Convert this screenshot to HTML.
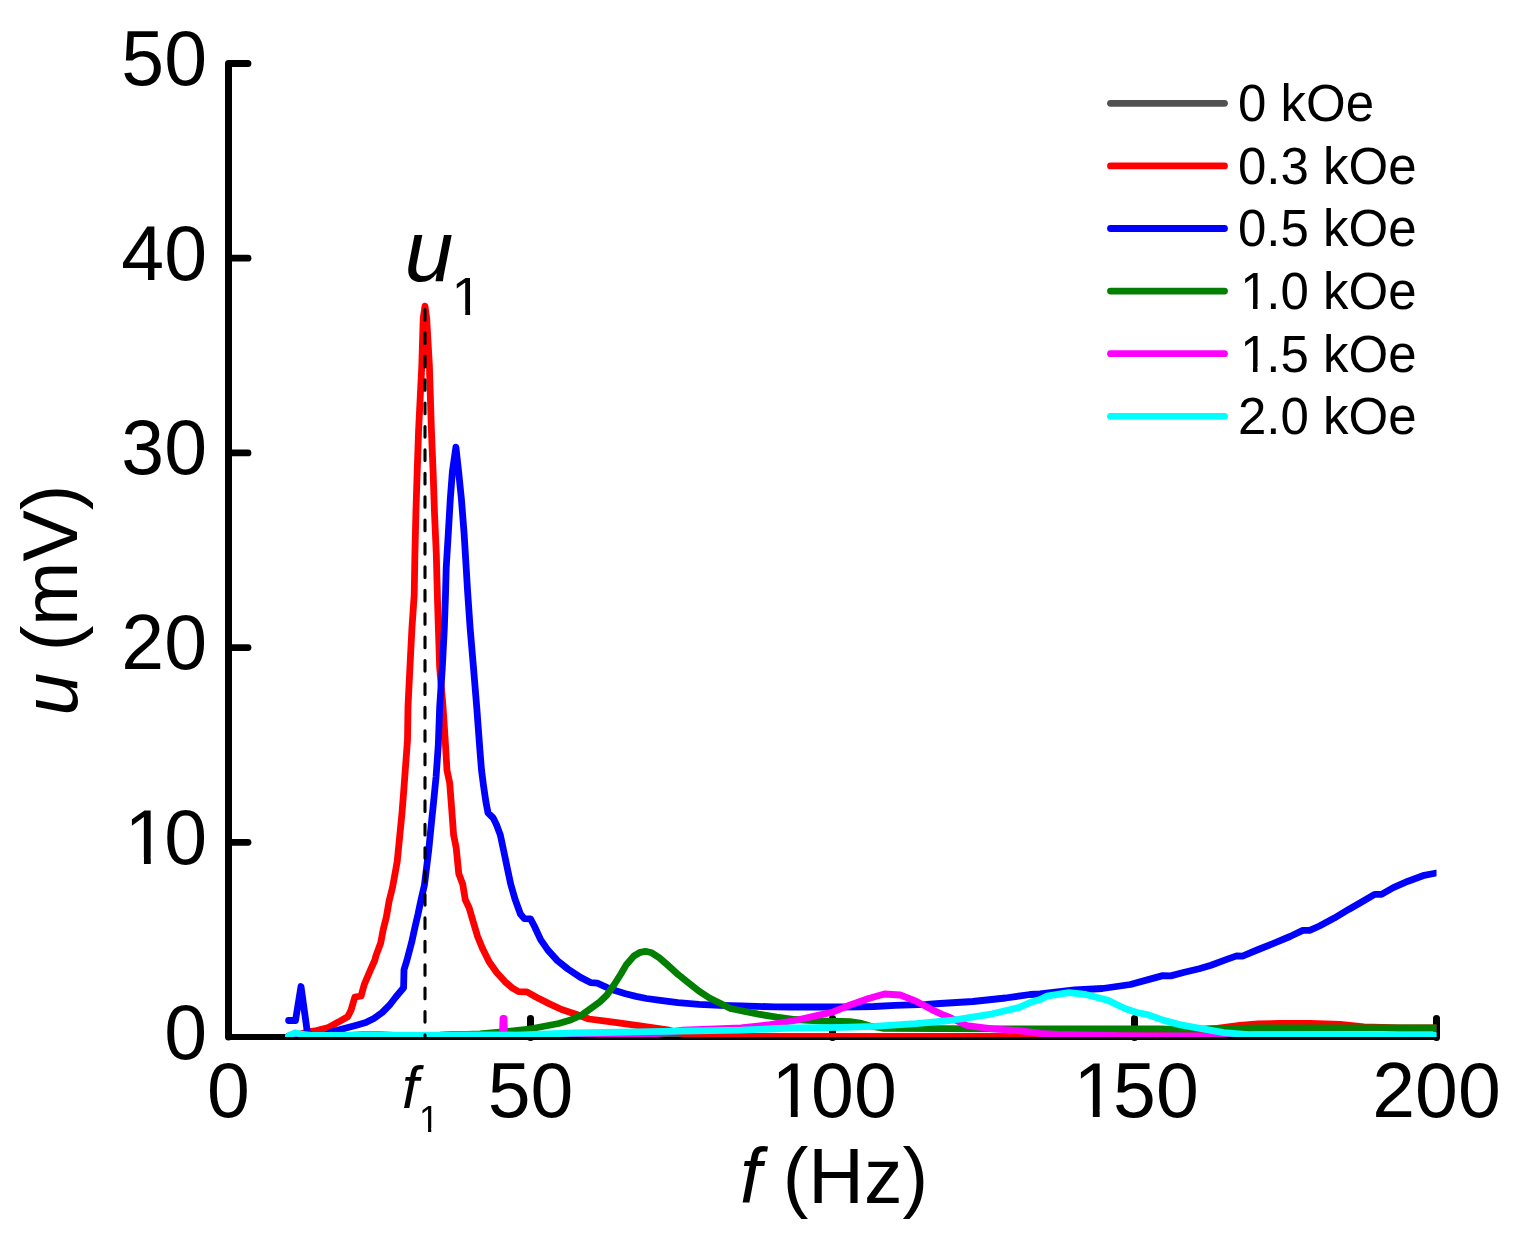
<!DOCTYPE html>
<html><head><meta charset="utf-8"><style>
html,body{margin:0;padding:0;background:#fff;}
svg{display:block;}
text{font-family:"Liberation Sans",Arial,sans-serif;fill:#000;}
</style></head><body>
<svg width="1524" height="1233" viewBox="0 0 1524 1233">
<g fill="none" stroke="#000" stroke-width="6.8" stroke-linecap="round" stroke-linejoin="round">
<path d="M247.9,63.5 H228.5 V1037.0" stroke-width="7"/>
<path d="M228.0,1037.0 H1436.5" stroke-width="5.9" stroke-linecap="butt"/>
<path d="M228.5,842.3 H248.0" />
<path d="M228.5,647.6 H248.0" />
<path d="M228.5,452.9 H248.0" />
<path d="M228.5,258.2 H248.0" />
<path d="M530.5,1037.4 V1018.5" stroke-width="7"/>
<path d="M832.5,1037.4 V1018.5" stroke-width="7"/>
<path d="M1134.5,1037.4 V1018.5" stroke-width="7"/>
<path d="M1436.5,1037.4 V1018.5" stroke-width="7"/>
</g>
<g font-size="77">
<text x="164.18" y="1058.50" font-size="77">0</text>
<text x="124.59 164.18" y="863.80" font-size="77">10</text>
<text x="121.35" y="669.10" font-size="77">20</text>
<text x="121.35" y="474.40" font-size="77">30</text>
<text x="121.35" y="279.70" font-size="77">40</text>
<text x="121.35" y="85.00" font-size="77">50</text>
<text x="207.09" y="1116.80" font-size="77">0</text>
<text x="487.68" y="1116.80" font-size="77">50</text>
<text x="771.50 811.09" y="1116.80" font-size="77">100</text>
<text x="1073.50 1113.09" y="1116.80" font-size="77">150</text>
<text x="1372.26" y="1116.80" font-size="77">200</text>
</g>
<text x="76.8" y="600" font-size="77" transform="rotate(-90 76.8 600)" text-anchor="middle"><tspan font-style="italic">u</tspan> (mV)</text>
<text x="834" y="1202.6" font-size="77" text-anchor="middle"><tspan font-style="italic">f</tspan> (Hz)</text>
<defs><clipPath id="pc"><rect x="228.5" y="63.5" width="1208.0" height="973.5"/></clipPath></defs>
<g fill="none" stroke-width="6.8" stroke-linecap="round" stroke-linejoin="round" clip-path="url(#pc)">
<polyline points="289.0,1036.5 700.0,1036.5 1436.5,1036.5" stroke="#525252"/>
<polyline points="289.0,1036.0 300.0,1034.0 307.0,1032.2 316.7,1030.5 327.5,1027.9 338.3,1022.1 347.7,1016.7 351.1,1010.0 354.8,997.1 361.1,996.0 364.3,984.4 370.6,969.7 374.9,960.0 375.9,955.9 380.6,943.3 383.2,929.6 386.4,916.9 389.1,901.1 392.6,887.0 397.2,861.7 399.6,837.3 402.0,813.0 403.9,788.7 405.7,764.3 407.5,740.0 408.0,706.7 409.9,667.8 411.9,628.9 414.2,595.0 414.9,554.1 415.9,512.8 417.2,471.4 418.6,430.0 421.8,365.6 423.2,318.5 425.0,306.2 426.7,318.5 429.4,365.6 431.4,430.0 433.1,471.4 434.5,512.8 436.3,554.1 437.5,600.0 438.4,628.9 439.7,667.8 443.0,706.7 445.2,740.0 447.0,770.4 449.7,783.0 451.7,808.9 453.6,834.9 456.2,847.8 458.8,873.8 462.7,884.1 465.3,899.7 469.2,908.0 472.9,920.7 477.6,936.5 482.8,949.1 489.1,961.7 496.5,972.2 504.9,981.6 512.2,987.9 518.5,991.6 526.9,991.9 536.4,997.3 549.0,1003.6 561.6,1009.5 575.2,1014.0 589.0,1019.0 615.0,1022.3 640.0,1025.8 669.0,1030.2 685.0,1034.0 700.0,1036.8 740.0,1037.2 880.0,1037.2 1040.0,1037.2 1100.0,1036.5 1150.0,1034.0 1190.0,1030.5 1217.0,1028.3 1240.0,1025.5 1258.0,1024.0 1280.0,1023.3 1310.0,1023.3 1340.0,1024.5 1364.0,1027.0 1400.0,1028.0 1436.5,1028.0" stroke="#ff0000"/>
<polyline points="288.6,1020.5 295.5,1020.5 301.0,986.5 307.3,1032.0 312.0,1036.0 322.0,1037.0 332.0,1031.9 345.0,1028.3 355.6,1025.5 365.8,1022.6 373.9,1018.4 382.2,1012.5 389.5,1005.2 395.8,997.0 403.6,987.7 404.0,969.7 407.0,960.0 408.6,953.8 411.7,942.2 414.9,927.5 418.1,913.8 421.2,899.0 424.4,885.3 425.8,873.8 428.8,849.5 431.2,825.2 433.7,800.8 436.1,776.5 438.3,745.0 439.7,706.7 442.3,667.8 444.3,628.9 445.5,595.0 446.2,567.9 448.3,533.4 450.3,499.0 452.4,471.4 455.9,447.2 458.6,471.4 461.4,499.0 464.1,533.4 466.2,567.9 467.5,590.0 470.2,628.9 473.5,667.8 476.7,706.7 479.9,749.9 481.5,770.0 483.5,785.6 486.0,802.4 488.0,812.8 493.2,818.0 496.4,824.5 500.3,834.9 503.6,850.4 507.4,868.6 510.7,884.1 515.2,899.7 520.4,914.0 524.3,918.6 530.5,918.8 534.3,926.0 540.6,939.6 547.9,950.1 557.4,960.6 567.9,969.0 580.5,977.4 591.0,982.7 597.3,983.2 606.7,987.4 615.0,990.6 625.5,993.8 636.0,996.4 646.5,998.5 662.2,1000.6 678.0,1002.7 699.0,1004.3 720.0,1005.3 741.0,1005.9 775.0,1006.9 790.0,1007.0 842.5,1007.0 874.0,1006.5 895.0,1005.4 926.5,1004.4 940.0,1003.5 972.8,1001.5 1005.6,998.0 1030.0,994.5 1040.0,994.0 1074.6,990.0 1102.5,988.5 1130.4,984.5 1150.0,979.1 1162.8,975.6 1170.7,975.9 1184.4,972.2 1199.2,968.7 1211.0,965.3 1226.8,959.4 1236.6,955.9 1242.5,956.2 1258.3,949.5 1273.0,943.6 1290.0,936.5 1302.8,930.4 1309.7,930.4 1319.5,926.0 1334.3,918.1 1349.1,909.2 1363.8,900.8 1374.6,894.4 1381.5,894.4 1393.3,887.6 1408.1,881.2 1422.9,875.7 1436.5,873.0" stroke="#0000ff"/>
<polyline points="289.0,1036.0 440.0,1035.5 480.0,1034.0 508.0,1031.5 527.0,1029.5 543.0,1026.5 558.7,1023.5 570.6,1020.0 582.4,1014.6 594.2,1006.0 600.0,1001.8 606.7,995.3 614.1,984.8 620.9,974.0 626.5,964.4 633.9,956.0 640.2,952.3 645.4,951.3 651.7,952.8 659.1,957.6 667.5,964.9 678.0,974.4 688.5,982.8 699.0,991.2 709.5,998.0 720.0,1003.2 730.5,1008.5 740.0,1010.5 758.4,1014.1 776.7,1017.2 795.0,1019.5 822.0,1021.0 850.0,1021.7 860.0,1023.0 870.0,1026.0 884.0,1028.3 940.0,1028.6 1005.0,1028.8 1040.0,1029.0 1160.0,1028.8 1175.0,1029.5 1200.0,1029.2 1258.0,1028.0 1436.5,1027.9" stroke="#007f00"/>
<polyline points="289.0,1039.0 300.0,1039.0 340.0,1036.0 362.0,1034.6 381.0,1034.6 400.0,1035.6 440.0,1035.2 452.0,1034.4 502.5,1034.2 503.0,1018.3 504.0,1018.3 504.5,1034.2 520.0,1035.5 545.0,1036.0 603.0,1036.0 650.0,1034.5 683.0,1030.2 741.0,1028.0 767.6,1025.0 795.0,1020.5 813.5,1016.4 831.9,1012.3 850.2,1004.9 868.6,998.5 884.5,994.0 900.2,995.0 916.0,1001.2 931.7,1009.6 942.0,1014.4 950.0,1017.5 966.8,1025.5 992.5,1028.9 1018.7,1030.7 1040.0,1033.4 1057.0,1034.5 1116.0,1035.7 1150.0,1036.0 1200.0,1036.0 1250.0,1038.0 1436.5,1039.0" stroke="#ff00ff"/>
<polyline points="288.5,1036.0 295.0,1032.7 303.0,1034.5 312.0,1035.3 516.0,1035.2 574.0,1033.0 650.0,1031.6 741.0,1030.2 790.0,1028.0 842.0,1027.3 874.0,1026.3 916.0,1023.6 940.0,1021.3 950.0,1020.5 966.2,1018.1 992.5,1013.8 1018.7,1007.6 1030.0,1002.6 1040.0,999.6 1046.7,996.2 1069.0,992.6 1085.8,994.5 1108.1,1000.4 1124.8,1008.5 1136.0,1012.3 1147.1,1014.5 1163.9,1020.4 1180.6,1024.9 1200.0,1028.4 1223.8,1032.7 1248.4,1034.7 1270.0,1035.2 1436.5,1035.2" stroke="#00ffff"/>
</g>
<line x1="425" y1="309.5" x2="425" y2="1037" stroke="#000" stroke-width="3.1" stroke-linecap="round" stroke-dasharray="10.6,12.8"/>
<text x="404.4" y="281" font-size="88" font-style="italic">u</text>
<text x="451.59" y="315.00" font-size="54.5">1</text>
<text x="402" y="1108" font-size="60" font-style="italic">f</text>
<text x="419.01" y="1131.80" font-size="36">1</text>
<g font-size="51">
<g fill="none" stroke-width="6.8" stroke-linecap="round">
<line x1="1110.5" y1="103.3" x2="1224.5" y2="103.3" stroke="#525252"/>
<line x1="1110.5" y1="165.9" x2="1224.5" y2="165.9" stroke="#ff0000"/>
<line x1="1110.5" y1="228.5" x2="1224.5" y2="228.5" stroke="#0000ff"/>
<line x1="1110.5" y1="291.1" x2="1224.5" y2="291.1" stroke="#007f00"/>
<line x1="1110.5" y1="353.7" x2="1224.5" y2="353.7" stroke="#ff00ff"/>
<line x1="1110.5" y1="416.3" x2="1224.5" y2="416.3" stroke="#00ffff"/>
</g>
<text x="1238.00" y="121.20" font-size="51">0 kOe</text>
<text x="1238.00" y="183.80" font-size="51">0.3 kOe</text>
<text x="1238.00" y="246.40" font-size="51">0.5 kOe</text>
<text x="1240.14 1266.36" y="309.00" font-size="51">1.0 kOe</text>
<text x="1240.14 1266.36" y="371.60" font-size="51">1.5 kOe</text>
<text x="1238.00" y="434.20" font-size="51">2.0 kOe</text>
</g>
<g fill="#fff">
<rect x="129.03" y="857.05" width="14.92" height="7.75"/>
<rect x="150.75" y="857.05" width="14.32" height="7.75"/>
<rect x="775.94" y="1110.05" width="14.92" height="7.75"/>
<rect x="797.67" y="1110.05" width="14.32" height="7.75"/>
<rect x="1077.94" y="1110.05" width="14.92" height="7.75"/>
<rect x="1099.67" y="1110.05" width="14.32" height="7.75"/>
<rect x="1242.68" y="304.19" width="10.29" height="5.81"/>
<rect x="1257.47" y="304.19" width="9.89" height="5.81"/>
<rect x="1242.68" y="366.79" width="10.29" height="5.81"/>
<rect x="1257.47" y="366.79" width="9.89" height="5.81"/>
<rect x="454.38" y="309.93" width="10.91" height="6.07"/>
<rect x="470.11" y="309.93" width="10.49" height="6.07"/>
<rect x="420.45" y="1128.11" width="7.62" height="4.69"/>
<rect x="431.25" y="1128.11" width="7.33" height="4.69"/>
</g>
</svg>
</body></html>
